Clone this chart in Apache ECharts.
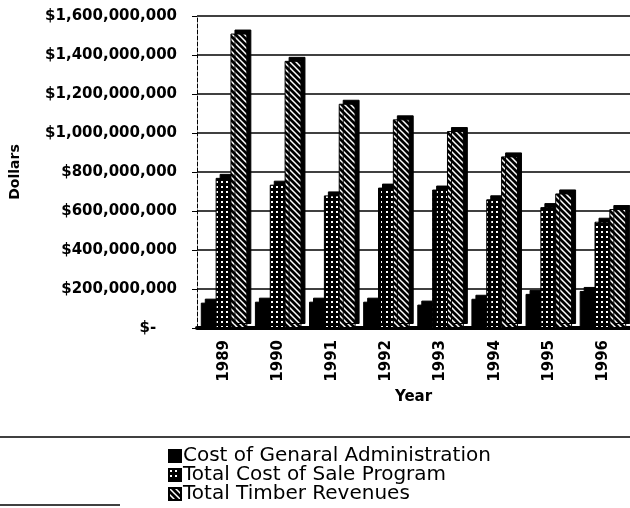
<!DOCTYPE html>
<html>
<head>
<meta charset="utf-8">
<script src="https://cdn.jsdelivr.net/npm/echarts@6/dist/echarts.min.js"></script>
<style>
  html, body { margin: 0; padding: 0; background: #fff; }
  #chart { width: 630px; height: 508px; }
</style>
</head>
<body>
<div id="chart"></div>
<script>
// data
var years = ["1989", "1990", "1991", "1992", "1993", "1994", "1995", "1996"];
var adminCost = [130e6, 135e6, 135e6, 135e6, 120e6, 150e6, 175e6, 190e6];
var saleCost = [770e6, 735e6, 680e6, 720e6, 710e6, 660e6, 620e6, 545e6];
var timberRevenue = [1510e6, 1370e6, 1150e6, 1070e6, 1010e6, 880e6, 690e6, 610e6];
var seriesNames = ["Cost of Genaral Administration", "Total Cost of Sale Program", "Total Timber Revenues"];

// hatch fills
function dotPattern() {
  var c = document.createElement("canvas");
  c.width = 5; c.height = 5;
  var g = c.getContext("2d");
  g.fillStyle = "#000"; g.fillRect(0, 0, 5, 5);
  g.fillStyle = "#fff"; g.fillRect(1, 1, 2, 2);
  return { image: c, repeat: "repeat" };
}
function stripePattern() {
  var c = document.createElement("canvas");
  c.width = 6; c.height = 6;
  var g = c.getContext("2d");
  g.fillStyle = "#000"; g.fillRect(0, 0, 6, 6);
  g.strokeStyle = "#fff"; g.lineWidth = 1.5;
  g.beginPath();
  g.moveTo(-1, -1); g.lineTo(7, 7);
  g.moveTo(-1, 5); g.lineTo(1, 7);
  g.moveTo(5, -1); g.lineTo(7, 1);
  g.stroke();
  return { image: c, repeat: "repeat" };
}

var font = "DejaVu Sans";

function money(v) {
  if (v === 0) return "$-    ";
  return "$" + v.toLocaleString("en-US");
}

var chart = echarts.init(document.getElementById("chart"));

function barStyle(fill) {
  return {
    color: fill,
    borderColor: "#000",
    borderWidth: 1,
    shadowColor: "#000",
    shadowBlur: 0,
    shadowOffsetX: 4,
    shadowOffsetY: -4
  };
}

var option = {
  animation: false,
  backgroundColor: "#fff",
  grid: { left: 197, right: 0, top: 16, bottom: 180 },
  legend: {
    orient: "vertical",
    left: 168,
    top: 446,
    height: 80,
    padding: 0,
    icon: "rect",
    itemWidth: 12,
    itemHeight: 12,
    itemGap: -1,
    textStyle: { fontFamily: font, fontSize: 20, color: "#000", lineHeight: 18, padding: [0, 0, 0, -3] },
    data: seriesNames
  },
  xAxis: {
    type: "category",
    data: years,
    name: "Year",
    nameLocation: "middle",
    nameGap: 57,
    nameTextStyle: { fontFamily: font, fontSize: 15, fontWeight: "bold", color: "#000" },
    axisLine: { lineStyle: { color: "#000", width: 4 } },
    axisTick: { show: false },
    axisLabel: { rotate: 90, margin: 12, fontFamily: font, fontSize: 15, fontWeight: "bold", color: "#000" }
  },
  yAxis: {
    type: "value",
    min: 0,
    max: 1600e6,
    interval: 200e6,
    name: "Dollars",
    nameLocation: "middle",
    nameGap: 175,
    nameTextStyle: { fontFamily: font, fontSize: 14, fontWeight: "bold", color: "#000" },
    axisLine: { show: true, lineStyle: { color: "#000", width: 1, type: "dashed" } },
    axisTick: { show: true, length: 5, lineStyle: { color: "#000" } },
    axisLabel: { formatter: money, margin: 20, fontFamily: font, fontSize: 15, fontWeight: "bold", color: "#000" },
    splitLine: { lineStyle: { color: "#000", width: 1.5 } }
  },
  series: [
    { name: seriesNames[0], type: "bar", data: adminCost, barGap: "-12%", barCategoryGap: "14%", itemStyle: barStyle("#000") },
    { name: seriesNames[1], type: "bar", data: saleCost, barGap: "-12%", itemStyle: barStyle(dotPattern()) },
    { name: seriesNames[2], type: "bar", data: timberRevenue, barGap: "-12%", itemStyle: barStyle(stripePattern()) }
  ],
  graphic: [
    { type: "line", shape: { x1: 0, y1: 437, x2: 630, y2: 437 }, style: { stroke: "#000", lineWidth: 1.5 } },
    { type: "line", shape: { x1: 0, y1: 505, x2: 120, y2: 505 }, style: { stroke: "#000", lineWidth: 1.5 } }
  ]
};

chart.setOption(option);
</script>
</body>
</html>
